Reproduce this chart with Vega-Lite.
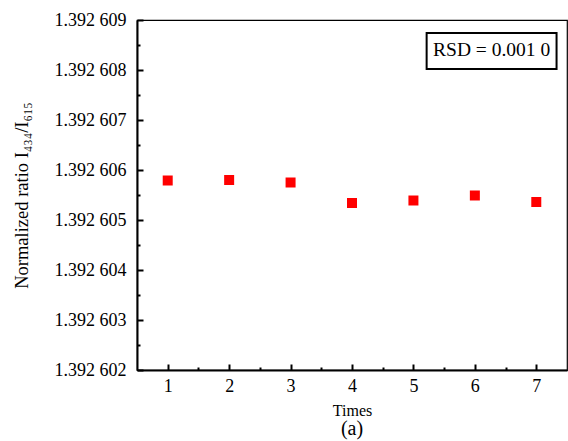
{
  "$schema": "https://vega.github.io/schema/vega-lite/v6.json",
  "width": 430,
  "height": 350,
  "autosize": {"type": "none"},
  "padding": {"left": 137, "top": 20, "right": 1, "bottom": 71},
  "config": {
    "font": "Liberation Serif",
    "view": {"stroke": "black", "strokeWidth": 1.2},
    "axis": {"grid": false, "domainColor": "black", "tickColor": "black", "labelColor": "black", "titleColor": "black", "titleFontWeight": "normal", "labelFont": "Liberation Serif", "titleFont": "Liberation Serif"}
  },
  "title": {"text": "(a)", "orient": "bottom", "fontSize": 20, "font": "Liberation Serif", "fontWeight": "normal", "color": "black", "anchor": "middle", "offset": 1},
  "data": {
    "values": [
      {"Times": 1, "ratio": 1.39260579},
      {"Times": 2, "ratio": 1.39260580},
      {"Times": 3, "ratio": 1.39260575},
      {"Times": 4, "ratio": 1.39260534},
      {"Times": 5, "ratio": 1.39260539},
      {"Times": 6, "ratio": 1.39260549},
      {"Times": 7, "ratio": 1.39260536}
    ]
  },
  "layer": [
    {
      "mark": {"type": "point", "opacity": 0},
      "encoding": {
        "x": {"field": "Times", "type": "quantitative", "scale": {"domain": [0.5, 7.5], "nice": false, "zero": false},
          "axis": {"orient": "bottom", "values": [1.5, 2.5, 3.5, 4.5, 5.5, 6.5], "labels": false, "domain": false, "title": null, "tickSize": -3, "tickWidth": 2}},
        "y": {"field": "ratio", "type": "quantitative", "scale": {"domain": [1.392602, 1.392609], "nice": false, "zero": false},
          "axis": {"orient": "left", "values": [1.3926025, 1.3926035, 1.3926045, 1.3926055, 1.3926065, 1.3926075, 1.3926085], "labels": false, "domain": false, "title": null, "tickSize": -3, "tickWidth": 2}}
      }
    },
    {
      "mark": {"type": "square", "size": 100, "color": "#ff0000", "opacity": 1},
      "encoding": {
        "x": {"field": "Times", "type": "quantitative",
          "axis": {"orient": "bottom", "values": [1, 2, 3, 4, 5, 6, 7], "title": "Times", "titleFontSize": 16, "labelFontSize": 18, "tickSize": -6, "tickWidth": 2, "domainWidth": 2, "labelPadding": 13, "titlePadding": 7, "labelFlush": false}},
        "y": {"field": "ratio", "type": "quantitative",
          "axis": {"orient": "left", "values": [1.392602, 1.392603, 1.392604, 1.392605, 1.392606, 1.392607, 1.392608, 1.392609], "title": "Normalized ratio I₄₃₄/I₆₁₅", "titleFontSize": 18.5, "labelFontSize": 18, "tickSize": -6, "tickWidth": 2, "domainWidth": 2, "labelPadding": 17, "titlePadding": 23, "labelFlush": false,
            "labelExpr": "substring(format(datum.value, '.6f'), 0, 5) + ' ' + substring(format(datum.value, '.6f'), 5)"}}
      }
    },
    {
      "data": {"values": [{"label": "RSD = 0.001 0"}]},
      "mark": {"type": "rect", "fill": "white", "stroke": "black", "strokeWidth": 2},
      "encoding": {
        "x": {"datum": 5.215, "type": "quantitative", "axis": null},
        "x2": {"datum": 7.33},
        "y": {"datum": 1.39260874, "type": "quantitative", "axis": null},
        "y2": {"datum": 1.39260802}
      }
    },
    {
      "data": {"values": [{"label": "RSD = 0.001 0"}]},
      "mark": {"type": "text", "fontSize": 19.5, "font": "Liberation Serif", "color": "black", "align": "center", "baseline": "middle"},
      "encoding": {
        "x": {"datum": 6.273, "type": "quantitative", "axis": null},
        "y": {"datum": 1.3926084, "type": "quantitative", "axis": null},
        "text": {"field": "label"}
      }
    }
  ],
  "resolve": {"axis": {"x": "independent", "y": "independent"}}
}
